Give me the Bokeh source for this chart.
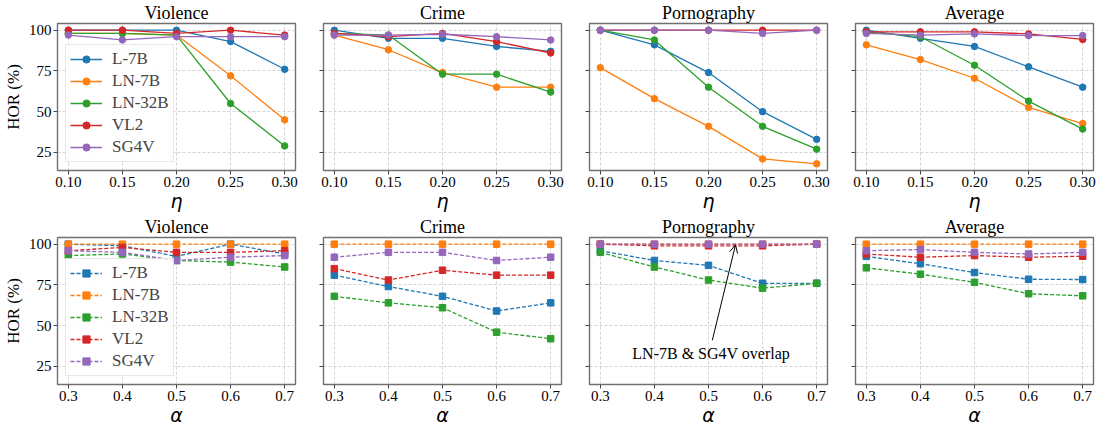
from bokeh.plotting import figure
from bokeh.layouts import column, row
from bokeh.models import Range1d, FixedTicker, PrintfTickFormatter, Arrow, OpenHead, Label
from bokeh.embed import file_html
from bokeh.resources import INLINE

models = ["L-7B", "LN-7B", "LN-32B", "VL2", "SG4V"]
colors = ["#1f77b4", "#ff7f0e", "#2ca02c", "#d62728", "#9467bd"]
categories = ["Violence", "Crime", "Pornography", "Average"]
eta = [0.10, 0.15, 0.20, 0.25, 0.30]
alpha = [0.3, 0.4, 0.5, 0.6, 0.7]
y_ticks = [25, 50, 75, 100]

# top row (eta), values per model in order of `models`
eta_violence = [
    [100, 100, 100, 93, 76],
    [98, 98, 97, 72, 45],
    [98, 98, 97, 55, 29],
    [100, 100, 98, 100, 97],
    [97, 94, 96, 96, 96],
]
eta_crime = [
    [100, 95, 95, 90, 87],
    [97, 88, 74, 65, 65],
    [98, 97, 73, 73, 62],
    [98, 96, 98, 93, 86],
    [97, 97, 97.5, 96, 94],
]
eta_porn = [
    [100, 91, 74, 50, 33],
    [77, 58, 41, 21, 18],
    [100, 94, 65, 41, 27],
    [100, 100, 100, 100, 100],
    [100, 100, 100, 98, 100],
]
eta_avg = [
    [100, 95, 90, 77.5, 65],
    [91, 82, 70.5, 52.6, 42.7],
    [99, 96, 78.5, 56.5, 39.3],
    [99, 99, 99, 97.7, 94.3],
    [98, 97, 97.7, 96.7, 96.7],
]
# bottom row (alpha)
alpha_violence = [
    [100, 99, 92.5, 100, 94],
    [100, 100, 100, 100, 100],
    [93, 94, 90, 89, 86],
    [96, 98, 95, 95, 96],
    [96, 95, 90, 92, 93],
]
alpha_crime = [
    [81, 74, 68, 59, 64],
    [100, 100, 100, 100, 100],
    [68, 64, 61, 46, 42],
    [85, 78, 84, 81, 81],
    [92, 95, 95, 90, 92],
]
alpha_porn = [
    [96, 90, 87, 76, 76],
    [100, 100, 100, 100, 100],
    [95, 86, 78, 73, 76],
    [100, 99, 99, 99, 100],
    [100, 100, 100, 100, 100],
]
alpha_avg = [
    [92.5, 88, 82.6, 78.5, 78.3],
    [100, 100, 100, 100, 100],
    [85.5, 81.6, 76.6, 69.6, 68.3],
    [94, 92, 93, 92, 92.6],
    [96, 96.7, 95, 94, 95],
]

top_data = [eta_violence, eta_crime, eta_porn, eta_avg]
bot_data = [alpha_violence, alpha_crime, alpha_porn, alpha_avg]

SERIF = "Liberation Serif"
FW, FH = 238, 147


def make(col, data, xs, xrange, fmt, xlabel, marker, dash):
    first = col == 0
    p = figure(
        frame_width=FW, frame_height=FH,
        x_range=Range1d(*xrange), y_range=Range1d(13.9, 104.1),
        output_backend="svg", toolbar_location=None,
        min_border_left=50 if first else 15, min_border_right=13,
        min_border_top=2, min_border_bottom=2,
        title=categories[col],
    )
    p.title.align = "center"
    p.title.text_font = SERIF
    p.title.text_font_size = "18px"
    p.title.text_font_style = "normal"
    p.title.standoff = 1
    p.title.text_color = "black"
    p.outline_line_color = "#707070"
    p.outline_line_width = 1.4
    p.background_fill_color = "white"
    p.border_fill_color = "white"

    for ax in (p.xaxis[0], p.yaxis[0]):
        ax.axis_line_color = None
        ax.major_tick_out = 4
        ax.major_tick_in = 0
        ax.minor_tick_line_color = None
        ax.major_tick_line_color = "#444444"
        ax.major_label_text_font = SERIF
        ax.major_label_text_font_size = "15px"
        ax.major_label_text_color = "black"
        ax.major_label_standoff = 2
    p.xaxis.ticker = FixedTicker(ticks=xs)
    p.xaxis.formatter = PrintfTickFormatter(format=fmt)
    p.xaxis.axis_label = xlabel
    p.xaxis.axis_label_text_font = "DejaVu Sans"
    p.xaxis.axis_label_text_font_style = "italic"
    p.xaxis.axis_label_text_font_size = "19px"
    p.xaxis.axis_label_text_color = "black"
    p.xaxis.axis_label_standoff = 0
    p.yaxis.ticker = FixedTicker(ticks=y_ticks)
    if first:
        p.yaxis.axis_label = "HOR (%)"
        p.yaxis.axis_label_text_font = SERIF
        p.yaxis.axis_label_text_font_style = "normal"
        p.yaxis.axis_label_text_font_size = "17px"
        p.yaxis.axis_label_text_color = "black"
        p.yaxis.axis_label_standoff = 3
    else:
        p.yaxis.major_label_overrides = {t: "" for t in y_ticks}

    p.grid.grid_line_color = "#c8c8c8"
    p.grid.grid_line_dash = "3 2"
    p.grid.grid_line_width = 0.8
    p.xgrid.ticker = FixedTicker(ticks=xs)
    p.ygrid.ticker = FixedTicker(ticks=y_ticks)

    for name, c, ys in zip(models, colors, data):
        kw = {"legend_label": name} if first else {}
        p.line(xs, ys, line_color=c, line_width=1.3, line_dash=dash, **kw)
        p.scatter(xs, ys, marker=marker, size=6.5, fill_color=c, line_color=c, **kw)

    if first:
        lg = p.legend[0]
        lg.location = "bottom_left"
        lg.margin = 8
        lg.padding = 4
        lg.spacing = 2
        lg.glyph_width = 32
        lg.glyph_height = 18
        lg.label_height = 18
        lg.label_text_font = SERIF
        lg.label_text_font_size = "17px"
        lg.label_standoff = 10
        lg.border_line_color = "#d0d0d0"
        lg.border_line_width = 1
        lg.background_fill_alpha = 0.85
    return p


top = [make(i, top_data[i], eta, (0.09, 0.31), "%.2f", "η", "circle", "solid") for i in range(4)]
bot = [make(i, bot_data[i], alpha, (0.28, 0.72), "%.1f", "α", "square", "4 2") for i in range(4)]

porn = bot[2]
porn.add_layout(Arrow(end=OpenHead(size=8, line_width=1, line_color="black"),
                      x_start=0.507, y_start=41, x_end=0.55, y_end=99.6,
                      line_color="black", line_width=1))
porn.add_layout(Label(x=0.505, y=33, text="LN-7B & SG4V overlap", text_align="center",
                      text_baseline="middle", text_font=SERIF, text_font_size="16px",
                      text_color="black"))

layout = column(row(*top), row(*bot))
open("out.html", "w").write(file_html(layout, INLINE))
